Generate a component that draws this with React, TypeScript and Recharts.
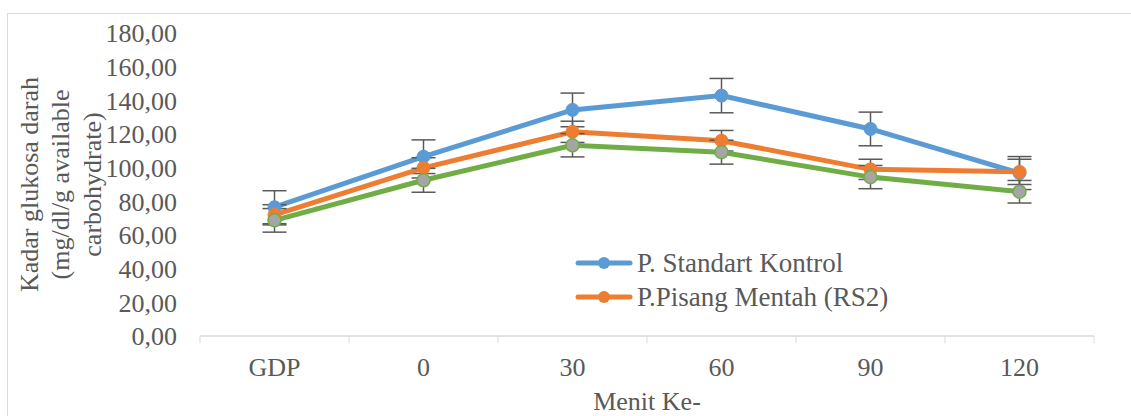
import React from 'react';
import { LineChart, Line, XAxis, YAxis, ErrorBar, Legend } from 'recharts';

const categories = ['GDP', '0', '30', '60', '90', '120'];
const kontrol = [76.5, 106.5, 134.3, 142.8, 123.0, 96.8];
const kontrolSd = [9.8, 10.0, 10.0, 10.2, 10.0, 9.8];
const pisang = [72.0, 99.9, 121.3, 116.0, 99.0, 97.5];
const pisangSd = [6.0, 6.0, 6.3, 6.1, 6.0, 7.5];
const seri3 = [68.7, 92.5, 113.3, 109.2, 94.4, 85.7];
const seri3Sd = [7.0, 7.1, 6.9, 7.1, 6.9, 6.7];
const yTicks = [0, 20, 40, 60, 80, 100, 120, 140, 160, 180];

const data = categories.map((c, i) => ({
  name: c,
  kontrol: kontrol[i],
  kontrolSd: kontrolSd[i],
  pisang: pisang[i],
  pisangSd: pisangSd[i],
  seri3: seri3[i],
  seri3Sd: seri3Sd[i],
}));

const FONT = "'Liberation Serif', 'Times New Roman', serif";
const TEXT = '#595959';
const GRIDC = '#d9d9d9';

const XTick = (props: any) => {
  const { x, y, payload, index, visibleTicksCount } = props;
  const half = payload && payload.offset ? payload.offset : 74.5;
  return (
    <g>
      <line x1={x - half} x2={x - half} y1={y - 7} y2={y} stroke={GRIDC} strokeWidth={1} />
      {index === visibleTicksCount - 1 && (
        <line x1={x + half} x2={x + half} y1={y - 7} y2={y} stroke={GRIDC} strokeWidth={1} />
      )}
      <text x={x} y={y + 33} textAnchor="middle" fontFamily={FONT} fontSize={26} fill={TEXT}>
        {payload.value}
      </text>
    </g>
  );
};

const YLabel = (props: any) => {
  const vb = props.viewBox || { x: 0, y: 33, width: 200, height: 303 };
  const cy = vb.y + vb.height / 2;
  const lines = ['Kadar glukosa darah', '(mg/dl/g available', 'carbohydrate)'];
  const xs = [29, 60.5, 92];
  return (
    <g>
      {lines.map((l, i) => (
        <text
          key={i}
          x={0}
          y={0}
          transform={`translate(${xs[i]}, ${cy}) rotate(-90)`}
          textAnchor="middle"
          dominantBaseline="central"
          fontFamily={FONT}
          fontSize={26}
          fill={TEXT}
        >
          {l}
        </text>
      ))}
    </g>
  );
};

const XLabel = (props: any) => {
  const vb = props.viewBox || { x: 200, y: 336, width: 894, height: 80 };
  return (
    <text x={vb.x + vb.width / 2} y={vb.y + 74} textAnchor="middle" fontFamily={FONT} fontSize={26} fill={TEXT}>
      Menit Ke-
    </text>
  );
};

const LegendContent = (props: any) => {
  const items = (props.payload || []).filter((p: any) => p.dataKey !== 'seri3');
  return (
    <svg width={340} height={70} style={{ display: 'block', overflow: 'visible' }}>
      {items.map((it: any, i: number) => {
        const cy = 18 + i * 34;
        return (
          <g key={i}>
            <line x1={3} x2={55} y1={cy} y2={cy} stroke={it.color} strokeWidth={5} strokeLinecap="round" />
            <circle cx={29} cy={cy} r={6} fill={it.color} />
            <text x={62} y={cy} dominantBaseline="central" fontFamily={FONT} fontSize={27} fill={TEXT}>
              {it.value}
            </text>
          </g>
        );
      })}
    </svg>
  );
};

export default function App() {
  return (
    <div style={{ position: 'absolute', left: 0, top: 0, width: 1131, height: 416, overflow: 'hidden', background: '#fff' }}>
      <div
        style={{
          position: 'absolute',
          left: 7,
          top: 13,
          width: 1140,
          height: 420,
          border: `1px solid ${GRIDC}`,
          boxSizing: 'border-box',
        }}
      />
      <div style={{ position: 'absolute', left: 0, top: 0 }}>
        <LineChart width={1131} height={416} data={data} margin={{ top: 33, right: 37, bottom: 0, left: 0 }}>
          <XAxis
            dataKey="name"
            scale="band"
            height={80}
            axisLine={{ stroke: GRIDC, strokeWidth: 1.3 }}
            tickLine={{ stroke: 'none' }}
            tickSize={7}
            tickMargin={0}
            tick={<XTick />}
            interval={0}
            label={<XLabel />}
          />
          <YAxis
            width={200}
            domain={[0, 180]}
            ticks={yTicks}
            interval={0}
            axisLine={false}
            tickLine={{ stroke: 'none' }}
            tickSize={6}
            tickMargin={17}
            tickFormatter={(v: number) => v.toFixed(2).replace('.', ',')}
            tick={{ fontFamily: FONT, fontSize: 26, fill: TEXT }}
            label={<YLabel />}
          />
          <Legend
            layout="vertical"
            align="center"
            verticalAlign="middle"
            content={<LegendContent />}
            wrapperStyle={{ position: 'absolute', left: 575, top: 245, width: 340, height: 70 }}
          />
          <Line
            dataKey="kontrol"
            name="P. Standart Kontrol"
            stroke="#5B9BD5"
            strokeWidth={5}
            dot={{ r: 6.5, fill: '#5B9BD5', stroke: '#5B9BD5', strokeWidth: 1 }}
            activeDot={false}
            isAnimationActive={false}
          >
            <ErrorBar dataKey="kontrolSd" width={12} stroke={TEXT} strokeWidth={1.5} direction="y" isAnimationActive={false} />
          </Line>
          <Line
            dataKey="pisang"
            name="P.Pisang Mentah (RS2)"
            stroke="#ED7D31"
            strokeWidth={5}
            dot={{ r: 6.5, fill: '#ED7D31', stroke: '#ED7D31', strokeWidth: 1 }}
            activeDot={false}
            isAnimationActive={false}
          >
            <ErrorBar dataKey="pisangSd" width={12} stroke={TEXT} strokeWidth={1.5} direction="y" isAnimationActive={false} />
          </Line>
          <Line
            dataKey="seri3"
            name="Seri 3"
            stroke="#70AD47"
            strokeWidth={5}
            dot={{ r: 6.5, fill: '#A5A5A5', stroke: '#70AD47', strokeWidth: 1.5 }}
            activeDot={false}
            legendType="none"
            isAnimationActive={false}
          >
            <ErrorBar dataKey="seri3Sd" width={12} stroke={TEXT} strokeWidth={1.5} direction="y" isAnimationActive={false} />
          </Line>
        </LineChart>
      </div>
    </div>
  );
}
